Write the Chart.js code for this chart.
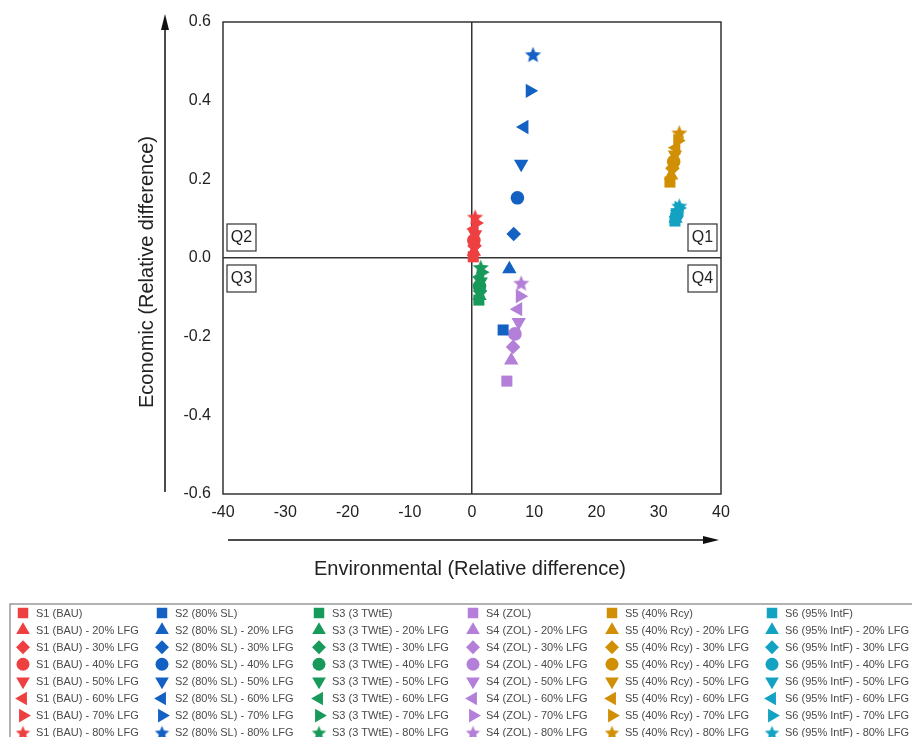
<!DOCTYPE html>
<html>
<head>
<meta charset="utf-8">
<script src="https://cdn.jsdelivr.net/npm/chart.js@4/dist/chart.umd.min.js"></script>
<style>
  html, body { margin: 0; padding: 0; background: #fff; }
  #wrap { width: 912px; height: 737px; }
</style>
</head>
<body>
<div id="wrap"><canvas id="quadChart" width="912" height="737"></canvas></div>
<script>
// Scenario names and LFG variants (legend labels)
const scenarioNames = ["S1 (BAU)", "S2 (80% SL)", "S3 (3 TWtE)", "S4 (ZOL)", "S5 (40% Rcy)", "S6 (95% IntF)"];
const lfgLevels = ["", " - 20% LFG", " - 30% LFG", " - 40% LFG", " - 50% LFG", " - 60% LFG", " - 70% LFG", " - 80% LFG"];

// Environmental (x) and Economic (y) relative differences, order: base, 20% .. 80% LFG
const s1Env = [0.2, 0.3, 0.4, 0.3, 0.5, 0.4, 0.6, 0.5];
const s1Econ = [0.003, 0.016, 0.031, 0.045, 0.06, 0.074, 0.089, 0.104];
const s2Env = [5.0, 6.0, 6.7, 7.3, 7.9, 8.4, 9.3, 9.8];
const s2Econ = [-0.183, -0.028, 0.061, 0.153, 0.239, 0.333, 0.425, 0.517];
const s3Env = [1.1, 1.2, 1.3, 1.2, 1.4, 1.3, 1.5, 1.4];
const s3Econ = [-0.107, -0.096, -0.084, -0.072, -0.06, -0.048, -0.036, -0.024];
const s4Env = [5.6, 6.3, 6.6, 6.9, 7.5, 7.4, 7.7, 7.9];
const s4Econ = [-0.313, -0.26, -0.226, -0.193, -0.163, -0.13, -0.097, -0.064];
const s5Env = [31.8, 32.0, 32.2, 32.4, 32.6, 32.8, 33.0, 33.3];
const s5Econ = [0.193, 0.21, 0.228, 0.245, 0.263, 0.28, 0.298, 0.318];
const s6Env = [32.6, 32.7, 32.8, 32.9, 33.0, 33.1, 33.2, 33.3];
const s6Econ = [0.094, 0.1, 0.105, 0.11, 0.116, 0.121, 0.127, 0.132];

// Axis ticks
const xTicks = [-40, -30, -20, -10, 0, 10, 20, 30, 40];
const yTicks = [-0.6, -0.4, -0.2, 0.0, 0.2, 0.4, 0.6];

const envSeries = [s1Env, s2Env, s3Env, s4Env, s5Env, s6Env];
const econSeries = [s1Econ, s2Econ, s3Econ, s4Econ, s5Econ, s6Econ];
const colors = ["#ee4040", "#1461c4", "#179a5a", "#b47fd8", "#d18f06", "#14a2c2"];

const FONT = "'Liberation Sans', Arial, sans-serif";

// filled five-point star as a point image
function makeStar(color, size) {
  const c = document.createElement("canvas");
  c.width = size;
  c.height = size;
  const g = c.getContext("2d");
  const cx = size / 2, cy = size / 2 + size * 0.04;
  const R = size / 2, r = R * 0.45;
  g.beginPath();
  for (let i = 0; i < 10; i++) {
    const a = -Math.PI / 2 + (i * Math.PI) / 5;
    const rad = i % 2 === 0 ? R : r;
    g.lineTo(cx + rad * Math.cos(a), cy + rad * Math.sin(a));
  }
  g.closePath();
  g.fillStyle = color;
  g.fill();
  return c;
}

// marker shape for each LFG level: square, up, diamond, circle, down, left, right, star
const markerStyles = [
  { style: "rect", rotation: 0, radius: 7.8, star: 0 },
  { style: "triangle", rotation: 0, radius: 8.3, star: 0 },
  { style: "rectRot", rotation: 0, radius: 7.3, star: 0 },
  { style: "circle", rotation: 0, radius: 6.8, star: 0 },
  { style: "triangle", rotation: 180, radius: 8.3, star: 0 },
  { style: "triangle", rotation: 270, radius: 8.3, star: 0 },
  { style: "triangle", rotation: 90, radius: 8.3, star: 0 },
  { style: "star", rotation: 0, radius: 8, star: 17 },
];

const datasets = [];
scenarioNames.forEach((name, si) => {
  lfgLevels.forEach((lvl, li) => {
    const m = markerStyles[li];
    datasets.push({
      label: name + lvl,
      data: [{ x: envSeries[si][li], y: econSeries[si][li] }],
      backgroundColor: colors[si],
      borderColor: colors[si],
      borderWidth: 0,
      pointStyle: m.star ? makeStar(colors[si], m.star) : m.style,
      pointRotation: m.rotation,
      pointRadius: m.radius,
      pointHoverRadius: m.radius,
      _scenario: si,
      _level: li,
    });
  });
});

// frame, quadrant boxes, axis arrows, titles and legend
const decorPlugin = {
  id: "decor",
  afterDraw(chart) {
    const ctx = chart.ctx;
    const a = chart.chartArea;
    const y0 = chart.scales.y.getPixelForValue(0);
    ctx.save();

    // frame
    ctx.strokeStyle = "#333";
    ctx.lineWidth = 1.5;
    ctx.strokeRect(a.left, a.top, a.right - a.left, a.bottom - a.top);

    // quadrant labels
    ctx.font = "16px " + FONT;
    ctx.textAlign = "center";
    ctx.textBaseline = "middle";
    ctx.lineWidth = 1.2;
    const boxes = [
      ["Q2", a.left + 4, y0 - 34],
      ["Q3", a.left + 4, y0 + 7],
      ["Q1", a.right - 33, y0 - 34],
      ["Q4", a.right - 33, y0 + 7],
    ];
    boxes.forEach(([t, bx, by]) => {
      ctx.strokeRect(bx, by, 29, 27);
      ctx.fillStyle = "#222";
      ctx.fillText(t, bx + 14.5, by + 14);
    });

    // axis arrows
    ctx.strokeStyle = "#111";
    ctx.fillStyle = "#111";
    ctx.lineWidth = 1.5;
    ctx.beginPath();
    ctx.moveTo(165, 492);
    ctx.lineTo(165, 26);
    ctx.stroke();
    ctx.beginPath();
    ctx.moveTo(165, 14);
    ctx.lineTo(161, 30);
    ctx.lineTo(169, 30);
    ctx.closePath();
    ctx.fill();

    ctx.beginPath();
    ctx.moveTo(228, 540);
    ctx.lineTo(706, 540);
    ctx.stroke();
    ctx.beginPath();
    ctx.moveTo(719, 540);
    ctx.lineTo(703, 536);
    ctx.lineTo(703, 544);
    ctx.closePath();
    ctx.fill();

    // axis titles
    ctx.fillStyle = "#222";
    ctx.font = "20px " + FONT;
    ctx.fillText("Environmental (Relative difference)", 470, 569);
    ctx.save();
    ctx.translate(147, 272);
    ctx.rotate(-Math.PI / 2);
    ctx.fillText("Economic (Relative difference)", 0, 0);
    ctx.restore();

    // legend box
    ctx.strokeStyle = "#999";
    ctx.lineWidth = 1.5;
    ctx.strokeRect(10, 604, 1000, 200);

    const colX = [23, 162, 319, 473, 612, 772];
    ctx.font = "11px " + FONT;
    ctx.textAlign = "left";
    ctx.textBaseline = "middle";
    chart.data.datasets.forEach((ds) => {
      const x = colX[ds._scenario];
      const y = 613 + ds._level * 17.1;
      const m = markerStyles[ds._level];
      ctx.fillStyle = ds.backgroundColor;
      ctx.strokeStyle = ds.backgroundColor;
      Chart.helpers.drawPoint(ctx, {
        pointStyle: m.star ? makeStar(ds.backgroundColor, 15) : m.style,
        rotation: m.rotation,
        radius: m.radius * 0.95,
        borderWidth: 0,
      }, x, y);
      ctx.fillStyle = "#4a4a4a";
      ctx.fillText(ds.label, x + 13, y + 0.5);
    });
    ctx.restore();
  },
};

const zeroColor = (c) => (Math.abs(c.tick.value) < 1e-9 ? "#333" : "rgba(0,0,0,0)");

new Chart(document.getElementById("quadChart").getContext("2d"), {
  type: "scatter",
  data: { datasets },
  options: {
    responsive: false,
    animation: false,
    events: [],
    layout: { padding: { left: 0, right: 191, top: 22, bottom: 213 } },
    plugins: {
      legend: { display: false },
      tooltip: { enabled: false },
    },
    scales: {
      x: {
        type: "linear",
        min: xTicks[0],
        max: xTicks[xTicks.length - 1],
        afterBuildTicks: (s) => { s.ticks = xTicks.map((v) => ({ value: v })); },
        afterFit: (s) => { s.height = 30; },
        ticks: {
          padding: 9,
          color: "#222",
          font: { family: FONT, size: 16 },
          callback: (v) => String(v),
        },
        grid: { drawTicks: false, color: zeroColor, lineWidth: 1.5 },
        border: { display: false },
      },
      y: {
        type: "linear",
        min: yTicks[0],
        max: yTicks[yTicks.length - 1],
        afterBuildTicks: (s) => { s.ticks = yTicks.map((v) => ({ value: v })); },
        afterFit: (s) => { s.width = 223; },
        ticks: {
          padding: 12,
          color: "#222",
          font: { family: FONT, size: 16 },
          callback: (v) => Number(v).toFixed(1),
        },
        grid: { drawTicks: false, color: zeroColor, lineWidth: 1.5 },
        border: { display: false },
      },
    },
  },
  plugins: [decorPlugin],
});
</script>
</body>
</html>
